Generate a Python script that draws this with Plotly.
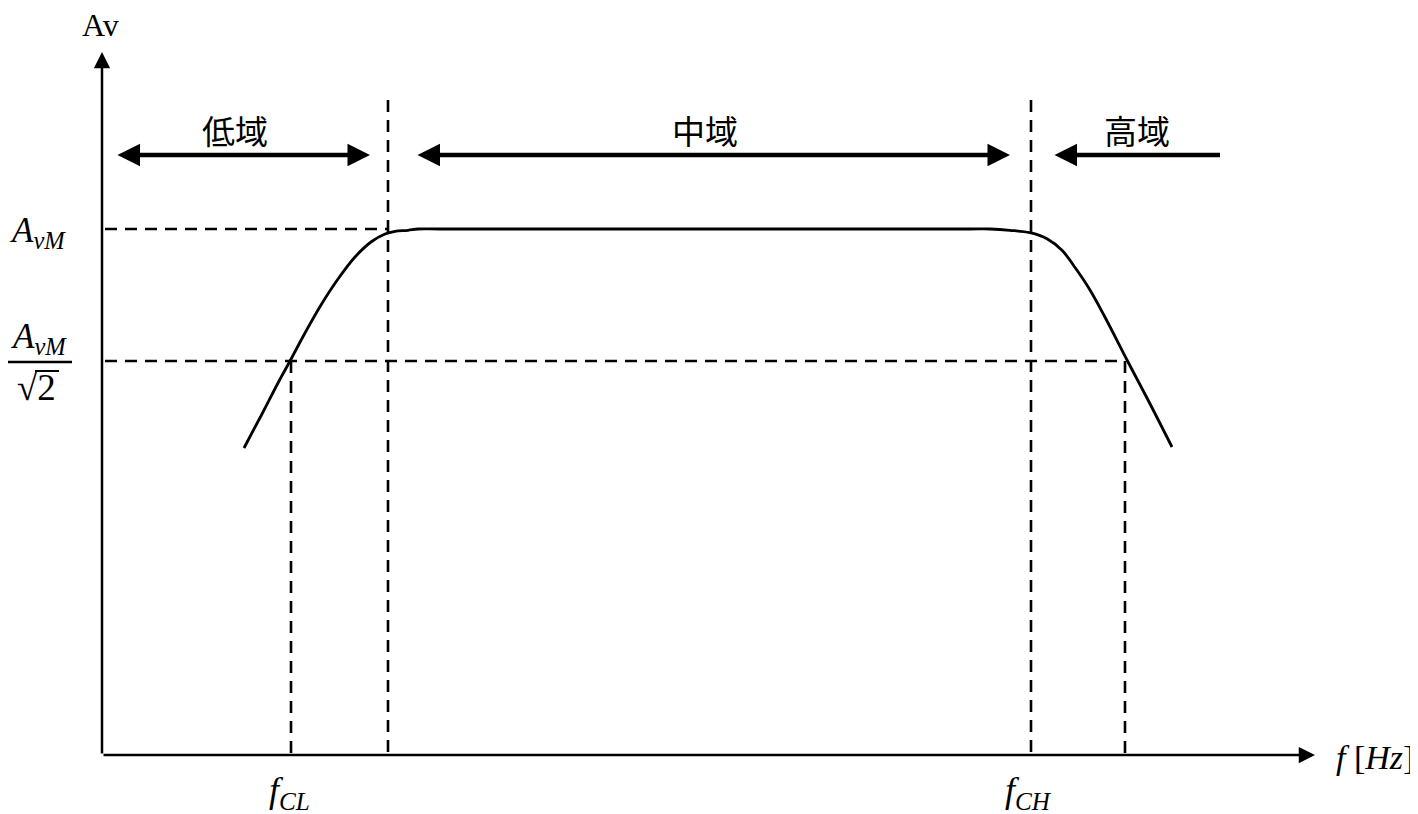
import plotly.graph_objects as go

# ---- data (diagram units: x = frequency position, y = gain position, y grows downward) ----
curve_x = [244, 262, 278, 290, 305, 321, 338, 355, 371, 385, 395, 408, 418,
           440, 700, 970,
           990, 1010, 1030, 1047, 1062, 1077, 1090, 1107, 1127, 1147, 1172]
curve_y = [448, 414, 383, 361, 333, 305, 279, 257, 242, 234, 231.3, 230.3, 229,
           229, 229, 229,
           229, 230.3, 232.7, 238.7, 250.3, 270.3, 290, 321, 360, 398, 447]

y_avm = 229          # A_vM level
y_half = 361         # A_vM / sqrt(2) level
x_fcl = 291          # lower cutoff
x_lo_edge = 388      # low / mid boundary
x_hi_edge = 1031     # mid / high boundary
x_fch = 1125         # upper cutoff

origin = (102, 755)
x_axis_end = 1315
y_axis_end = 52

band_labels = ["低域", "中域", "高域"]
band_label_x = [235, 705, 1137]
band_arrows = [(116, 370, "end+start"), (416, 1010, "end+start"), (1053, 1220, "start")]
band_arrow_y = 155
band_label_y = 130

# the page body adds an 8px offset; compensate so diagram units equal screen pixels
OFF = 8
W, H = 1418, 814

fig = go.Figure()

# response curve
fig.add_trace(go.Scatter(x=curve_x, y=curve_y, mode="lines",
                         line=dict(color="black", width=2.8, shape="spline", smoothing=1.0),
                         hoverinfo="skip", showlegend=False))

dash = "12px,8px"
dlines = [
    (origin[0] + 3, y_avm, x_lo_edge, y_avm),
    (origin[0] + 3, y_half, x_fch, y_half),
    (x_lo_edge, 100, x_lo_edge, origin[1]),
    (x_hi_edge, 100, x_hi_edge, origin[1]),
    (x_fcl, y_half, x_fcl, origin[1]),
    (x_fch, y_half, x_fch, origin[1]),
]
for x0, y0, x1, y1 in dlines:
    fig.add_shape(type="line", x0=x0, y0=y0, x1=x1, y1=y1, xref="x", yref="y",
                  line=dict(color="black", width=2.6, dash=dash))

ann = []
# axes with arrows
ann.append(dict(x=x_axis_end, y=origin[1], ax=origin[0], ay=origin[1], xref="x", yref="y",
                axref="x", ayref="y", text="", showarrow=True, arrowhead=2, arrowsize=1.3,
                arrowwidth=2.5, arrowcolor="black"))
ann.append(dict(x=origin[0], y=y_axis_end, ax=origin[0], ay=origin[1], xref="x", yref="y",
                axref="x", ayref="y", text="", showarrow=True, arrowhead=2, arrowsize=1.3,
                arrowwidth=2.5, arrowcolor="black"))

# band arrows
for (xa, xb, side) in band_arrows:
    ann.append(dict(x=xb, y=band_arrow_y, ax=xa, ay=band_arrow_y, xref="x", yref="y",
                    axref="x", ayref="y", text="", showarrow=True, arrowhead=2, startarrowhead=2,
                    arrowsize=1.0, startarrowsize=1.0, arrowside=side,
                    arrowwidth=4.5, arrowcolor="black"))
for lab, lx in zip(band_labels, band_label_x):
    ann.append(dict(x=lx, y=band_label_y, text=lab, showarrow=False, xref="x", yref="y",
                    font=dict(family="Noto Sans CJK JP", size=33, color="black")))

serif = "Liberation Serif"
ann.append(dict(x=100, y=25, text="Av", showarrow=False, xref="x", yref="y", borderpad=0,
                font=dict(family=serif, size=32, color="black")))
ann.append(dict(x=38, y=232, text="<i>A</i><sub><i>vM</i></sub>", showarrow=False, xref="x", yref="y",
                font=dict(family=serif, size=35, color="black")))
ann.append(dict(x=39, y=338, text="<i>A</i><sub><i>vM</i></sub>", showarrow=False, xref="x", yref="y",
                font=dict(family=serif, size=35, color="black")))
ann.append(dict(x=36, y=387, text="√2", showarrow=False, xref="x", yref="y",
                font=dict(family=serif, size=37, color="black")))
fig.add_shape(type="line", x0=8, y0=362, x1=72, y1=362, xref="x", yref="y",
              line=dict(color="black", width=2.5))
fig.add_shape(type="line", x0=35, y0=371, x1=59, y1=371, xref="x", yref="y",
              line=dict(color="black", width=2))
ann.append(dict(x=289, y=792, text="<i>f</i><sub><i>CL</i></sub>", showarrow=False, xref="x", yref="y",
                font=dict(family=serif, size=36, color="black")))
ann.append(dict(x=1028, y=792, text="<i>f</i><sub><i>CH</i></sub>", showarrow=False, xref="x", yref="y",
                font=dict(family=serif, size=36, color="black")))
ann.append(dict(x=1416, y=757, text="<i>f</i> [<i>Hz</i>]", showarrow=False, xref="x", yref="y",
                xanchor="right", font=dict(family=serif, size=34, color="black")))

fig.update_layout(
    width=W - OFF, height=H - OFF, margin=dict(l=0, r=0, t=0, b=0),
    paper_bgcolor="white", plot_bgcolor="white",
    xaxis=dict(range=[OFF, W], visible=False, fixedrange=True),
    yaxis=dict(range=[H, OFF], visible=False, fixedrange=True),
    annotations=ann, showlegend=False,
)
fig.write_html("out.html")
